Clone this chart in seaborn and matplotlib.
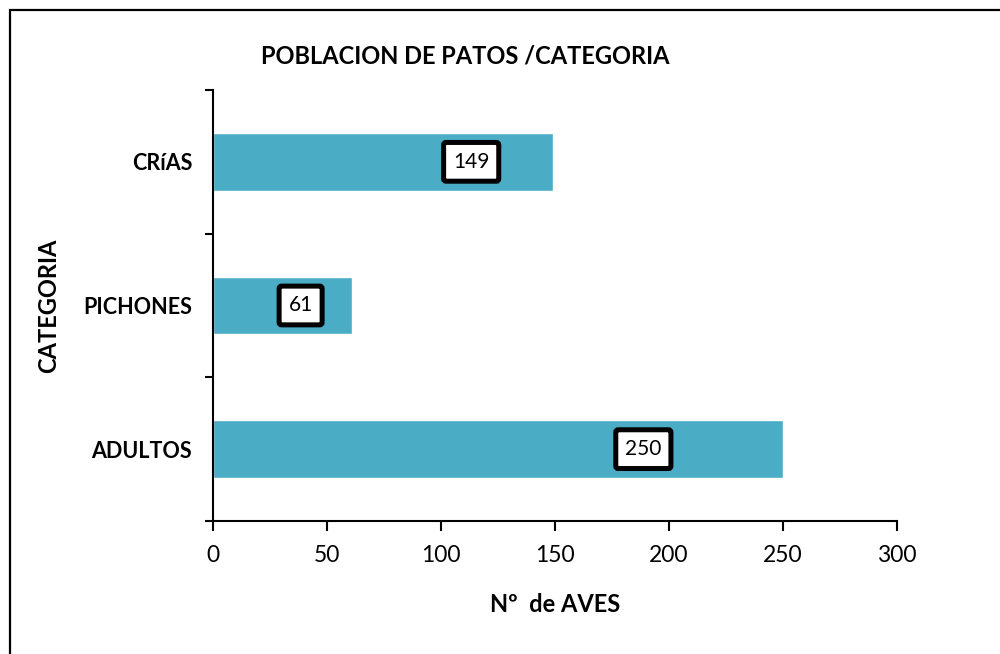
import matplotlib.pyplot as plt
import matplotlib.patches as mpatches
import pandas as pd
import seaborn as sns

categorias = ["CRíAS", "PICHONES", "ADULTOS"]
aves = [149, 61, 250]
# where the value boxes sit along each bar (fraction of bar length)
label_frac = [0.76, 0.63, 0.755]

data = pd.DataFrame({"categoria": categorias, "aves": aves})

sns.set_style("white")
plt.rcParams["font.family"] = ["Lato", "DejaVu Sans"]
plt.rcParams["text.color"] = "black"
plt.rcParams["axes.labelcolor"] = "black"
plt.rcParams["xtick.color"] = "black"
plt.rcParams["ytick.color"] = "black"

fig = plt.figure(figsize=(10, 6.54), dpi=100)
ax = fig.add_axes([0.213, 0.2034, 0.684, 0.659])

sns.barplot(x="aves", y="categoria", data=data, orient="h", color="#4BACC6",
            width=0.4, saturation=1, ax=ax)

ax.set_xlim(0, 300)
ax.set_ylim(2.5, -0.5)
ax.set_xticks(range(0, 301, 50))
ax.set_yticks([0, 1, 2])
ax.set_yticklabels(categorias, fontweight="bold", fontsize=15.5)
ax.set_yticks([-0.5, 0.5, 1.5, 2.5], minor=True)
ax.tick_params(axis="y", which="major", left=False, length=0, pad=15)
ax.tick_params(axis="y", which="minor", left=True, length=6, width=1.5,
               direction="out", color="black")
ax.tick_params(axis="x", bottom=True, length=7, width=1.5, direction="out",
               color="black", labelsize=16.5, pad=10)

for s in ["top", "right"]:
    ax.spines[s].set_visible(False)
for s in ["left", "bottom"]:
    ax.spines[s].set_color("black")
    ax.spines[s].set_linewidth(1.5)

for i, (v, f) in enumerate(zip(aves, label_frac)):
    ax.text(v * f, i, str(v), ha="center", va="center", fontsize=15,
            bbox=dict(boxstyle="round,pad=0.45,rounding_size=0.12",
                      facecolor="white", edgecolor="black", linewidth=3.6))

ax.set_xlabel("Nº  de AVES", fontweight="bold", fontsize=17, labelpad=20)
ax.set_ylabel("CATEGORIA", fontweight="bold", fontsize=17, labelpad=17)
fig.text(0.465, 0.915, "POBLACION DE PATOS /CATEGORIA", ha="center", va="center",
         fontweight="bold", fontsize=17)

# outer chart frame (right and bottom edges run off the picture)
fig.patches.append(mpatches.Rectangle((0.010, -0.1), 1.2, 1.085, transform=fig.transFigure,
                                      fill=False, edgecolor="black", linewidth=1.6))

fig.savefig("out.png", dpi=100)
